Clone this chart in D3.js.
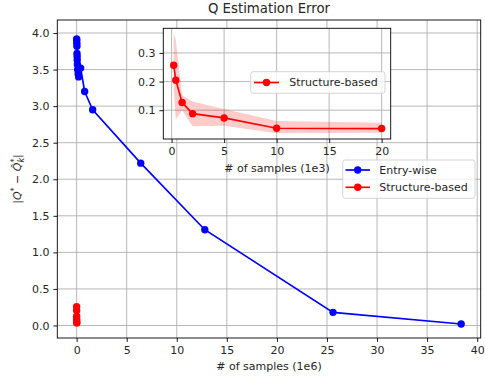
<!DOCTYPE html>
<html>
<head>
<meta charset="utf-8">
<script src="https://cdn.jsdelivr.net/npm/d3@7"></script>
<style>
  body { margin: 0; background: #fff; }
  svg text { font-family: "DejaVu Sans", sans-serif; fill: #262626; }
</style>
</head>
<body>
<div id="my_dataviz"></div>
<script>
// Entry-wise (x in 1e6 samples)
const entryX = [0.005, 0.01, 0.02, 0.03, 0.04, 0.05, 0.06, 0.08, 0.1, 0.15, 0.2, 0.4, 0.8, 1.6, 6.4, 12.8, 25.6, 38.4];
const entryY = [3.92, 3.90, 3.86, 3.82, 3.72, 3.68, 3.63, 3.57, 3.50, 3.44, 3.40, 3.52, 3.20, 2.95, 2.22, 1.31, 0.18, 0.02];

// Structure-based (x in 1e3 samples)
const structX = [0.2, 0.4, 1, 2, 5, 10, 20];
const structY = [0.257, 0.205, 0.127, 0.088, 0.073, 0.037, 0.036];
const structLo = [0.17, 0.068, 0.100, 0.044, 0.046, 0.020, 0.021];
const structHi = [0.370, 0.345, 0.153, 0.130, 0.104, 0.062, 0.056];

const xTicksMain = [0, 5, 10, 15, 20, 25, 30, 35, 40];
const yTicksMain = [0, 0.5, 1, 1.5, 2, 2.5, 3, 3.5, 4];
const xTicksInset = [0, 5, 10, 15, 20];
const yTicksInset = [0.1, 0.2, 0.3];

const W = 485, H = 382;
const main = {left: 57.3, right: 480.7, top: 20, bottom: 338};
const inset = {left: 163.3, right: 390.7, top: 28.3, bottom: 139};

const svg = d3.select("#my_dataviz")
  .append("svg")
    .attr("width", W)
    .attr("height", H);

const entry = entryX.map((x, i) => ({x: x, y: entryY[i]}));
const struct = structX.map((x, i) => ({x: x, y: structY[i], lo: structLo[i], hi: structHi[i]}));

// main scales
const x = d3.scaleLinear().domain([-1.93, 40.35]).range([main.left, main.right]);
const y = d3.scaleLinear().domain([-0.171, 4.178]).range([main.bottom, main.top]);

const gridColor = "#b0b0b0";

// grid
const grid = svg.append("g");
grid.selectAll(".gx").data(xTicksMain).join("line")
  .attr("x1", d => x(d)).attr("x2", d => x(d))
  .attr("y1", main.top).attr("y2", main.bottom)
  .attr("stroke", gridColor).attr("stroke-width", 0.9);
grid.selectAll(".gy").data(yTicksMain).join("line")
  .attr("x1", main.left).attr("x2", main.right)
  .attr("y1", d => y(d)).attr("y2", d => y(d))
  .attr("stroke", gridColor).attr("stroke-width", 0.9);

// axes
const xAxis = svg.append("g")
  .attr("transform", `translate(0, ${main.bottom})`)
  .call(d3.axisBottom(x).tickValues(xTicksMain).tickSize(3.9).tickPadding(3.9).tickFormat(d3.format("d")));
const yAxis = svg.append("g")
  .attr("transform", `translate(${main.left}, 0)`)
  .call(d3.axisLeft(y).tickValues(yTicksMain).tickSize(3.9).tickPadding(3.9).tickFormat(d3.format(".1f")));
[xAxis, yAxis].forEach(a => {
  a.select(".domain").remove();
  a.selectAll("text").style("font-size", "11px").style("font-family", "DejaVu Sans").attr("fill", "#262626");
  a.selectAll("line").attr("stroke", "#000").attr("stroke-width", 0.9);
});

// lines
const line = d3.line().x(d => x(d.x)).y(d => y(d.y));
svg.append("path").datum(entry)
  .attr("fill", "none").attr("stroke", "blue").attr("stroke-width", 1.67)
  .attr("d", line);
svg.append("g").selectAll("circle").data(entry).join("circle")
  .attr("cx", d => x(d.x)).attr("cy", d => y(d.y)).attr("r", 3.7).attr("fill", "blue");

const structMain = struct.map(d => ({x: d.x / 1000, y: d.y}));
svg.append("path").datum(structMain)
  .attr("fill", "none").attr("stroke", "red").attr("stroke-width", 1.67)
  .attr("d", line);
svg.append("g").selectAll("circle").data(structMain).join("circle")
  .attr("cx", d => x(d.x)).attr("cy", d => y(d.y)).attr("r", 3.7).attr("fill", "red");

// spines
svg.append("rect")
  .attr("x", main.left).attr("y", main.top)
  .attr("width", main.right - main.left).attr("height", main.bottom - main.top)
  .attr("fill", "none").attr("stroke", "#000").attr("stroke-width", 0.9);

// title and labels
svg.append("text")
  .attr("x", (main.left + main.right) / 2).attr("y", 13)
  .attr("text-anchor", "middle").style("font-size", "13.3px")
  .text("Q Estimation Error");

svg.append("text")
  .attr("x", (main.left + main.right) / 2).attr("y", 370)
  .attr("text-anchor", "middle").style("font-size", "11px")
  .text("# of samples (1e6)");

const ylab = svg.append("text")
  .attr("transform", `translate(21, ${(main.top + main.bottom) / 2}) rotate(-90)`)
  .attr("text-anchor", "middle").style("font-size", "11px");
ylab.append("tspan").text("|");
ylab.append("tspan").style("font-style", "italic").text("Q");
ylab.append("tspan").attr("dy", -4).style("font-size", "8px").text("*");
ylab.append("tspan").attr("dy", 4).text(" \u2212 ");
ylab.append("tspan").style("font-style", "italic").text("Q\u0302");
ylab.append("tspan").attr("dy", -4).style("font-size", "8px").text("*");
ylab.append("tspan").attr("dx", -4).attr("dy", 7).style("font-size", "8px").style("font-style", "italic").text("k");
ylab.append("tspan").attr("dy", -3).text("|");

// main legend
const leg = svg.append("g");
leg.append("rect")
  .attr("x", 342.7).attr("y", 160).attr("width", 132.3).attr("height", 38.3)
  .attr("rx", 2.5).attr("fill", "#fff").attr("fill-opacity", 0.8)
  .attr("stroke", "#d0d0d0").attr("stroke-width", 0.9);
[["Entry-wise", "blue", 170], ["Structure-based", "red", 187.3]].forEach(([name, col, ly]) => {
  leg.append("line").attr("x1", 345.5).attr("x2", 370).attr("y1", ly).attr("y2", ly)
    .attr("stroke", col).attr("stroke-width", 1.67);
  leg.append("circle").attr("cx", 357.7).attr("cy", ly).attr("r", 3.7).attr("fill", col);
  leg.append("text").attr("x", 379.3).attr("y", ly).attr("dy", "0.35em")
    .style("font-size", "11px").text(name);
});

// ---- inset ----
const xi = d3.scaleLinear().domain([-0.79, 20.86]).range([inset.left, inset.right]);
const yi = d3.scaleLinear().domain([-0.0005, 0.386]).range([inset.bottom, inset.top]);

const ins = svg.append("g");
ins.append("rect")
  .attr("x", inset.left).attr("y", inset.top)
  .attr("width", inset.right - inset.left).attr("height", inset.bottom - inset.top)
  .attr("fill", "#fff");
ins.selectAll(".gx").data(xTicksInset).join("line")
  .attr("x1", d => xi(d)).attr("x2", d => xi(d))
  .attr("y1", inset.top).attr("y2", inset.bottom)
  .attr("stroke", gridColor).attr("stroke-width", 0.9);
ins.selectAll(".gy").data(yTicksInset).join("line")
  .attr("x1", inset.left).attr("x2", inset.right)
  .attr("y1", d => yi(d)).attr("y2", d => yi(d))
  .attr("stroke", gridColor).attr("stroke-width", 0.9);

const xiAxis = ins.append("g")
  .attr("transform", `translate(0, ${inset.bottom})`)
  .call(d3.axisBottom(xi).tickValues(xTicksInset).tickSize(3.9).tickPadding(3.9).tickFormat(d3.format("d")));
const yiAxis = ins.append("g")
  .attr("transform", `translate(${inset.left}, 0)`)
  .call(d3.axisLeft(yi).tickValues(yTicksInset).tickSize(3.9).tickPadding(3.9).tickFormat(d3.format(".1f")));
[xiAxis, yiAxis].forEach(a => {
  a.select(".domain").remove();
  a.selectAll("text").style("font-size", "11px").style("font-family", "DejaVu Sans").attr("fill", "#262626");
  a.selectAll("line").attr("stroke", "#000").attr("stroke-width", 0.9);
});

// confidence band
ins.append("path").datum(struct)
  .attr("fill", "red").attr("fill-opacity", 0.2).attr("stroke", "none")
  .attr("d", d3.area()
    .x(d => xi(d.x))
    .y0(d => yi(d.lo))
    .y1(d => yi(d.hi)));

ins.append("path").datum(struct)
  .attr("fill", "none").attr("stroke", "red").attr("stroke-width", 1.67)
  .attr("d", d3.line().x(d => xi(d.x)).y(d => yi(d.y)));
ins.append("g").selectAll("circle").data(struct).join("circle")
  .attr("cx", d => xi(d.x)).attr("cy", d => yi(d.y)).attr("r", 3.7).attr("fill", "red");

ins.append("rect")
  .attr("x", inset.left).attr("y", inset.top)
  .attr("width", inset.right - inset.left).attr("height", inset.bottom - inset.top)
  .attr("fill", "none").attr("stroke", "#000").attr("stroke-width", 0.9);

ins.append("text")
  .attr("x", (inset.left + inset.right) / 2).attr("y", 172)
  .attr("text-anchor", "middle").style("font-size", "11px")
  .text("# of samples (1e3)");

// inset legend
ins.append("rect")
  .attr("x", 250.7).attr("y", 71.7).attr("width", 134.3).attr("height", 21.6)
  .attr("rx", 2.5).attr("fill", "#fff").attr("fill-opacity", 0.8)
  .attr("stroke", "#d0d0d0").attr("stroke-width", 0.9);
ins.append("line").attr("x1", 254).attr("x2", 279).attr("y1", 82.5).attr("y2", 82.5)
  .attr("stroke", "red").attr("stroke-width", 1.67);
ins.append("circle").attr("cx", 266.5).attr("cy", 82.5).attr("r", 3.7).attr("fill", "red");
ins.append("text").attr("x", 289.3).attr("y", 82.5).attr("dy", "0.35em")
  .style("font-size", "11px").text("Structure-based");
</script>
</body>
</html>
